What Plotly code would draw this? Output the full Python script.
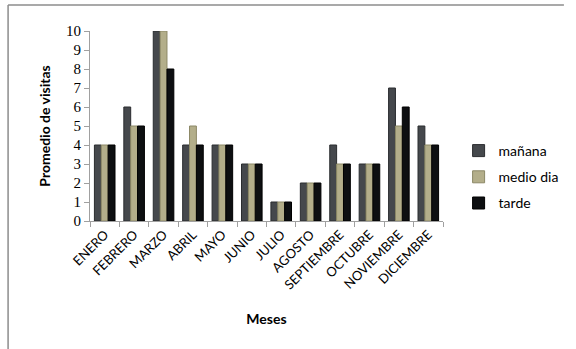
import plotly.graph_objects as go

meses = ["ENERO", "FEBRERO", "MARZO", "ABRIL", "MAYO", "JUNIO", "JULIO",
         "AGOSTO", "SEPTIEMBRE", "OCTUBRE", "NOVIEMBRE", "DICIEMBRE"]
manana = [4, 6, 10, 4, 4, 3, 1, 2, 4, 3, 7, 5]
medio_dia = [4, 5, 10, 5, 4, 3, 1, 2, 3, 3, 5, 4]
tarde = [4, 5, 8, 4, 4, 3, 1, 2, 3, 3, 6, 4]
y_ticks = list(range(0, 11))

series = [
    ("mañana", manana, "#45484c", "#2a2c2f"),
    ("medio dia", medio_dia, "#b3ae8a", "#8c8866"),
    ("tarde", tarde, "#0d0f11", "#000000"),
]

fig = go.Figure()
for name, vals, color, edge in series:
    fig.add_trace(go.Bar(
        x=meses, y=vals, name=name, legendgroup=name,
        marker=dict(color=color, line=dict(color=edge, width=1)),
    ))

# plot area in pixels
L, R, T, B = 90, 452, 31, 221
W, H = R - L, B - T

def px(x):
    return (x - L) / W

def py(y):
    return (B - y) / H

fig.update_layout(
    width=576, height=349,
    margin=dict(l=L, r=576 - R, t=T, b=349 - B),
    paper_bgcolor="white", plot_bgcolor="white",
    barmode="group", bargap=0.3, bargroupgap=0.0,
    font=dict(family="Lato", color="black"),
    showlegend=True,
    legend=dict(
        x=px(468), y=py(135), xanchor="left", yanchor="top",
        font=dict(size=14, family="Lato"),
        tracegroupgap=5, itemwidth=30,
        bgcolor="rgba(0,0,0,0)",
    ),
    xaxis=dict(
        showline=True, linecolor="#a0a0a0", linewidth=1,
        ticks="outside", ticklen=5, tickcolor="#a0a0a0",
        tickson="boundaries", tickangle=-45,
        tickfont=dict(size=13, family="Lato"),
        title=dict(text="<b>Meses</b>", font=dict(size=14, family="Lato"), standoff=22),
    ),
    yaxis=dict(
        range=[0, 10], tickvals=y_ticks, showgrid=False,
        showline=True, linecolor="#a0a0a0", linewidth=1,
        ticks="outside", ticklen=5, tickcolor="#a0a0a0",
        tickfont=dict(size=15, family="Liberation Serif"),
        zeroline=False,
        title=dict(text="<b>Promedio de visitas</b>", font=dict(size=14, family="Lato"), standoff=12),
    ),
    shapes=[
        # chart frame: top and left edges
        dict(type="line", xref="paper", yref="paper",
             x0=px(6), x1=px(576), y0=py(5), y1=py(5),
             line=dict(color="#8c8c8c", width=1.5)),
        dict(type="line", xref="paper", yref="paper",
             x0=px(6), x1=px(6), y0=py(5), y1=py(349),
             line=dict(color="#8c8c8c", width=1.5)),
    ],
)

fig.write_html("out.html", config={"displayModeBar": False})
